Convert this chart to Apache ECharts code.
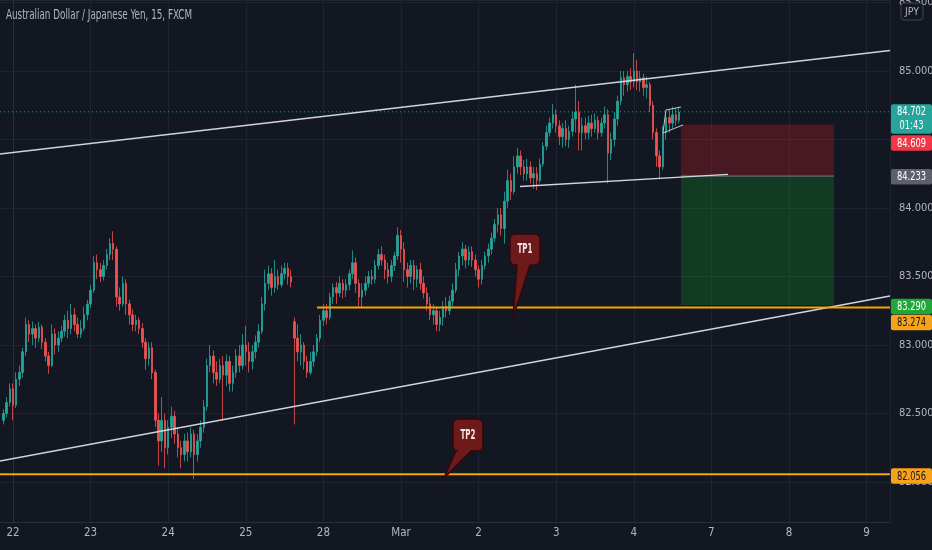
<!DOCTYPE html>
<html><head><meta charset="utf-8">
<script src="https://cdn.jsdelivr.net/npm/echarts@6/dist/echarts.min.js"></script>
<style>html,body{margin:0;padding:0;background:#131722;}#c{width:932px;height:550px;}</style>
</head><body><div id="c"></div>
<script>
// ---------- data ----------
const titleText = 'Australian Dollar / Japanese Yen, 15, FXCM';
const dayLabels = ['22','23','24','25','28','Mar','2','3','4','7','8','9'];
const hiddenPriceLabels = [84.5];

// hourly-resolution OHLC [open, close, low, high], grouped by day label
const pre = [[82.45,82.50,82.42,82.53],[82.50,82.58,82.47,82.62],[82.58,82.68,82.55,82.72]];
const d22 = [[82.68,82.56,82.45,82.72],[82.56,82.75,82.54,82.80],[82.75,82.80,82.70,82.85],[82.80,82.95,82.76,82.98],
[82.95,83.15,82.92,83.20],[83.15,83.08,83.02,83.18],[83.08,83.12,83.00,83.17],[83.12,83.05,82.98,83.15],
[83.05,83.13,83.02,83.17],[83.13,83.02,82.97,83.15],[83.02,82.92,82.88,83.05],[82.92,82.85,82.79,82.95],
[82.85,83.08,82.84,83.15],[83.08,83.00,82.93,83.12],[83.00,83.05,82.95,83.10],[83.05,83.10,83.02,83.14],
[83.10,83.18,83.06,83.22],[83.18,83.12,83.05,83.25],[83.12,83.22,83.08,83.30],[83.22,83.15,83.10,83.27],
[83.15,83.08,83.05,83.20],[83.08,83.12,83.05,83.18],[83.12,83.22,83.10,83.28],[83.22,83.30,83.18,83.33]];
const d23 = [[83.30,83.40,83.27,83.44],[83.40,83.60,83.38,83.65],[83.60,83.55,83.48,83.66],[83.55,83.50,83.46,83.60],
[83.50,83.58,83.47,83.62],[83.58,83.66,83.55,83.70],[83.66,83.74,83.62,83.78],[83.74,83.70,83.62,83.83],
[83.70,83.35,83.28,83.72],[83.35,83.30,83.25,83.42],[83.30,83.45,83.28,83.50],[83.45,83.30,83.22,83.48],
[83.30,83.22,83.15,83.33],[83.22,83.15,83.10,83.26],[83.15,83.18,83.10,83.22],[83.18,83.12,83.08,83.20],
[83.12,83.02,82.98,83.16],[83.02,82.90,82.82,83.05],[82.90,82.98,82.85,83.02],[82.98,82.80,82.75,83.02],
[82.80,82.45,82.40,82.82],[82.45,82.30,82.12,82.50],[82.30,82.45,82.22,82.62],[82.45,82.25,82.10,82.50]];
const d24 = [[82.25,82.40,82.20,82.45],[82.40,82.48,82.32,82.55],[82.48,82.35,82.28,82.52],[82.35,82.25,82.18,82.40],
[82.25,82.20,82.10,82.30],[82.20,82.30,82.15,82.35],[82.30,82.22,82.15,82.36],[82.22,82.35,82.18,82.40],
[82.35,82.20,82.02,82.38],[82.20,82.30,82.15,82.35],[82.30,82.40,82.25,82.45],[82.40,82.55,82.36,82.60],
[82.55,82.85,82.52,82.90],[82.85,82.92,82.80,83.00],[82.92,82.80,82.72,82.96],[82.80,82.75,82.70,82.88],
[82.75,82.85,82.72,82.90],[82.85,82.78,82.45,82.92],[82.78,82.88,82.70,82.93],[82.88,82.72,82.66,82.92],
[82.72,82.80,82.66,82.85],[82.80,82.92,82.76,82.97],[82.92,82.85,82.80,83.00],[82.85,83.00,82.82,83.08]];
const d25 = [[83.00,82.95,82.85,83.14],[82.95,82.88,82.80,83.02],[82.88,82.95,82.82,83.00],[82.95,83.02,82.90,83.07],
[83.02,83.10,82.98,83.15],[83.10,83.30,83.08,83.35],[83.30,83.45,83.25,83.55],[83.45,83.52,83.40,83.58],
[83.52,83.42,83.36,83.56],[83.42,83.50,83.38,83.62],[83.50,83.44,83.40,83.55],[83.44,83.52,83.42,83.58],
[83.52,83.56,83.48,83.60],[83.56,83.50,83.44,83.60],[83.50,83.46,83.42,83.55],[83.17,83.05,82.42,83.20],
[83.05,82.95,82.88,83.15],[82.95,83.00,82.85,83.08],[83.00,82.88,82.82,83.02],[82.88,82.80,82.76,82.92],
[82.80,82.88,82.78,82.95],[82.88,82.95,82.84,83.00],[82.95,83.05,82.92,83.08],[83.05,83.18,83.02,83.22]];
const d28 = [[83.18,83.25,83.14,83.30],[83.25,83.20,83.15,83.30],[83.20,83.35,83.18,83.38],[83.35,83.42,83.30,83.45],
[83.42,83.38,83.30,83.46],[83.38,83.45,83.35,83.50],[83.45,83.40,83.34,83.48],[83.40,83.44,83.35,83.48],
[83.44,83.52,83.40,83.55],[83.52,83.60,83.48,83.69],[83.60,83.45,83.38,83.64],[83.45,83.35,83.28,83.48],
[83.35,83.40,83.27,83.45],[83.40,83.45,83.36,83.50],[83.45,83.50,83.42,83.54],[83.50,83.48,83.44,83.55],
[83.48,83.58,83.45,83.62],[83.58,83.66,83.55,83.70],[83.66,83.62,83.58,83.72],[83.62,83.55,83.48,83.66],
[83.55,83.50,83.45,83.60],[83.50,83.58,83.46,83.62],[83.58,83.65,83.54,83.68],[83.65,83.80,83.62,83.86]];
const mar1 = [[83.80,83.70,83.60,83.84],[83.70,83.55,83.46,83.75],[83.55,83.50,83.42,83.60],[83.50,83.58,83.45,83.62],
[83.58,83.48,83.40,83.62],[83.48,83.55,83.42,83.58],[83.55,83.45,83.40,83.60],[83.45,83.38,83.34,83.50],
[83.38,83.30,83.25,83.42],[83.30,83.22,83.18,83.35],[83.22,83.25,83.15,83.30],[83.25,83.15,83.10,83.28],
[83.15,83.20,83.10,83.25],[83.20,83.28,83.14,83.32],[83.28,83.25,83.20,83.35],[83.25,83.32,83.22,83.36],
[83.32,83.40,83.28,83.45],[83.40,83.55,83.38,83.60],[83.55,83.65,83.50,83.68],[83.65,83.70,83.58,83.75],
[83.70,83.62,83.56,83.73],[83.62,83.68,83.58,83.72],[83.68,83.62,83.57,83.72],[83.62,83.55,83.50,83.66]];
const mar2 = [[83.55,83.48,83.42,83.58],[83.48,83.58,83.44,83.62],[83.58,83.65,83.55,83.68],[83.65,83.70,83.60,83.74],
[83.70,83.78,83.66,83.82],[83.78,83.88,83.75,83.92],[83.88,83.95,83.82,84.00],[83.95,83.85,83.80,84.00],
[83.85,84.05,83.74,84.12],[84.05,84.20,84.00,84.28],[84.20,84.12,84.06,84.25],[84.12,84.30,84.10,84.38],
[84.30,84.38,84.25,84.44],[84.38,84.30,84.24,84.42],[84.30,84.25,84.20,84.35],[84.25,84.30,84.20,84.36],
[84.30,84.22,84.18,84.34],[84.22,84.25,84.14,84.30],[84.25,84.20,84.13,84.30],[84.20,84.32,84.18,84.36],
[84.32,84.45,84.30,84.48],[84.45,84.55,84.42,84.60],[84.55,84.62,84.52,84.66],[84.62,84.68,84.58,84.76]];
const mar3 = [[84.68,84.60,84.55,84.72],[84.60,84.52,84.46,84.64],[84.52,84.58,84.44,84.62],[84.58,84.50,84.45,84.64],
[84.50,84.56,84.44,84.60],[84.56,84.65,84.52,84.70],[84.65,84.70,84.55,84.90],[84.70,84.55,84.42,84.78],
[84.55,84.60,84.42,84.66],[84.60,84.55,84.50,84.66],[84.55,84.62,84.50,84.67],[84.62,84.58,84.52,84.68],
[84.58,84.64,84.55,84.69],[84.64,84.55,84.50,84.67],[84.55,84.62,84.52,84.66],[84.62,84.68,84.58,84.74],
[84.68,84.40,84.18,84.72],[84.40,84.50,84.35,84.55],[84.50,84.65,84.45,84.70],[84.65,84.78,84.60,84.82],
[84.78,84.95,84.75,85.00],[84.95,84.90,84.82,85.00],[84.90,84.96,84.85,85.00],[84.96,84.92,84.86,85.02]];
const mar4 = [[84.92,85.00,84.88,85.13],[85.00,84.92,84.86,85.08],[84.92,84.95,84.85,85.00],[84.95,84.88,84.82,84.98],
[84.88,84.90,84.80,84.96],[84.90,84.75,84.70,84.92],[84.75,84.55,84.50,84.78],[84.55,84.38,84.30,84.58],
[84.38,84.30,84.21,84.42],[84.30,84.55,84.28,84.60],[84.55,84.66,84.50,84.70],[84.66,84.62,84.55,84.72],
[84.62,84.68,84.58,84.74],[84.68,84.64,84.60,84.73],[84.64,84.70,84.62,84.74]];

const lastPrice = 84.702, countdown = '01:43';
const stopPrice = 84.609, entryPrice = 84.233, targetPrice = 83.290;
const tp1Price = 83.274, tp2Price = 82.056;
const positionSpan = [8.608, 10.58];          // day-index range of the position box
const tp1Span = [3.918, 11.302];
const fullSpan = [-0.1675, 11.302];
// trend lines: [dayIdx0, price0, dayIdx1, price1]
const trendLines = [[-0.1675,84.394,11.302,85.149],[-0.1675,82.153,11.302,83.358],[6.534,84.157,9.214,84.245]];
const flagLines = [[8.415,84.715,8.608,84.737],[8.376,84.547,8.634,84.606],[8.376,84.547,8.415,84.715]];
const callouts = [{text:'TP1', idx:6.443, price:83.197},{text:'TP2', idx:5.554, price:82.029}];

// ---------- build chart ----------
const firstIdx = -0.125, barsPerDay = 24;
const ohlc = [].concat(pre,d22,d23,d24,d25,d28,mar1,mar2,mar3,mar4);
const candleData = ohlc.map((c,i)=>[firstIdx + i/barsPerDay, c[0], c[1], c[2], c[3]]);

const FONT = "'Liberation Sans Narrow','DejaVu Sans Condensed','Roboto',sans-serif";
const chart = echarts.init(document.getElementById('c'), null, {renderer:'canvas'});

function lineSeries(pts, color, width, type, z, opacity){
  return {type:'line', data:pts, symbol:'none', showSymbol:false, silent:true, animation:false, z:z,
    lineStyle:{color:color, width:width, type:type||'solid', opacity:opacity==null?1:opacity}};
}
const series = [];
series.push({type:'candlestick', data:candleData, encode:{x:0, y:[1,2,3,4]}, barWidth:2, silent:true, animation:false, z:3,
  itemStyle:{color:'#26a69a', color0:'#ef5350', borderColor:'#26a69a', borderColor0:'#ef5350', borderWidth:0.8}});
series.push(lineSeries([[fullSpan[0],lastPrice],[fullSpan[1],lastPrice]], '#26a69a', 1, [1,3], 2, 0.9));
series.push(Object.assign(lineSeries([[positionSpan[0],entryPrice],[positionSpan[1],entryPrice]], '#787b86', 1, 'solid', 2), {
  markArea:{silent:true, animation:false, data:[
    [{coord:[positionSpan[0], stopPrice], itemStyle:{color:'rgba(200,30,40,0.30)'}},{coord:[positionSpan[1], entryPrice]}],
    [{coord:[positionSpan[0], entryPrice], itemStyle:{color:'rgba(20,150,40,0.28)'}},{coord:[positionSpan[1], targetPrice]}]
  ]}}));
trendLines.forEach(t=>series.push(lineSeries([[t[0],t[1]],[t[2],t[3]]], '#d1d4dc', 1.4, 'solid', 5)));
flagLines.forEach(t=>series.push(lineSeries([[t[0],t[1]],[t[2],t[3]]], '#c5c7cf', 1, 'solid', 5)));
series.push(lineSeries([[tp1Span[0],tp1Price],[tp1Span[1],tp1Price]], '#f7a600', 2, 'solid', 6));
series.push(lineSeries([[fullSpan[0],tp2Price],[fullSpan[1],tp2Price]], '#f7a600', 2, 'solid', 6));

chart.setOption({
  backgroundColor:'#131722',
  animation:false,
  grid:{left:-64.6, right:42, top:0, bottom:28, containLabel:false, outerBoundsMode:'none'},
  xAxis:{type:'value', min:-1, max:11.302, interval:1, position:'bottom',
    axisLine:{show:true, lineStyle:{color:'#2a2e39'}}, axisTick:{show:false},
    splitLine:{show:true, lineStyle:{color:'#1f2330', width:1}},
    axisLabel:{show:true, color:'#b2b5be', fontSize:11.5, fontFamily:FONT, margin:5, showMinLabel:false, showMaxLabel:false,
      formatter:function(v){const k=Math.round(v); if(Math.abs(v-k)>1e-6||k<0||k>=dayLabels.length) return ''; return dayLabels[k];}}},
  yAxis:{type:'value', position:'right', min:81.708, max:85.518, splitNumber:8, scale:true,
    axisLine:{show:true, lineStyle:{color:'#2a2e39'}}, axisTick:{show:false},
    splitLine:{show:true, lineStyle:{color:'#1f2330', width:1}},
    axisLabel:{color:'#b2b5be', fontSize:11, fontFamily:FONT, margin:9, align:'left', showMinLabel:false, showMaxLabel:false,
      formatter:function(v){ if(hiddenPriceLabels.some(h=>Math.abs(h-v)<1e-6)) return ''; return v.toFixed(3);}}},
  series:series
});

// ---------- overlay: price tags, callouts, title ----------
function px(idx, price){ return chart.convertToPixel({xAxisIndex:0, yAxisIndex:0}, [idx, price]); }
function measure(text, font){ const ctx=document.createElement('canvas').getContext('2d'); ctx.font=font; return ctx.measureText(text).width; }
const g = [];
const tagX = 891, tagW = 41;
const tags = [
  {p:lastPrice, bg:'#26a69a', fg:'#ffffff', shift:0, sub:countdown},
  {p:stopPrice, bg:'#f23645', fg:'#ffffff', shift:18.4},
  {p:entryPrice, bg:'#5d606b', fg:'#ffffff', shift:0.8},
  {p:targetPrice, bg:'#1ea838', fg:'#ffffff', shift:1.3},
  {p:tp1Price, bg:'#f7a21b', fg:'#131722', shift:15},
  {p:tp2Price, bg:'#f7a21b', fg:'#131722', shift:1.7}
];
const tagFont = '12px '+FONT;
const tagScale = Math.min(1, 29 / measure('84.702', tagFont));
function tagText(x, y, text, fill){
  const w = measure(text, tagFont)*tagScale;
  return {type:'text', z:101, x:x - w/2, y:y, scaleX:tagScale, style:{text:text, fill:fill, font:tagFont, textVerticalAlign:'middle'}};
}
tags.forEach(t=>{
  const y = px(0, t.p)[1] + t.shift;
  const h = t.sub ? 29.5 : 15.5;
  const top = t.sub ? y - 7.5 : y - 7.75;
  g.push({type:'rect', z:100, shape:{x:tagX, y:top, width:tagW, height:h, r:2}, style:{fill:t.bg}});
  g.push(tagText(tagX+tagW/2, y+0.5, t.p.toFixed(3), t.fg));
  if(t.sub) g.push(tagText(tagX+tagW/2, y+14.5, t.sub, t.fg));
});
// JPY box
g.push({type:'rect', z:100, shape:{x:901, y:3, width:22, height:17, r:3}, style:{fill:'#131722', stroke:'#434651', lineWidth:1}});
g.push({type:'text', z:101, x:912, y:12, style:{text:'JPY', fill:'#b2b5be', font:'10.5px '+FONT, textAlign:'center', textVerticalAlign:'middle'}});
// title
const titleFont = '13.5px '+FONT;
const tScale = 186 / measure(titleText, titleFont);
g.push({type:'text', z:101, x:6, y:15.5, scaleX:tScale, style:{text:titleText, fill:'#b2b5be', font:titleFont, textVerticalAlign:'middle'}});
// callouts
function calloutPoints(bx,by,w,h,r,pl,pr,tx,ty){
  const pts=[];
  const corner=(cx,cy,a0)=>{for(let k=0;k<=4;k++){const a=a0+k*Math.PI/8; pts.push([cx+r*Math.cos(a), cy+r*Math.sin(a)]);}};
  corner(bx+r,by+r,Math.PI); corner(bx+w-r,by+r,1.5*Math.PI); corner(bx+w-r,by+h-r,0);
  pts.push([bx+pr,by+h]); pts.push([tx,ty]); pts.push([bx+pl,by+h]);
  corner(bx+r,by+h-r,0.5*Math.PI);
  return pts;
}
const calloutBox = [{dx:-3, dy:-84, w:30, h:31, pl:7, pr:20},{dx:9, dy:-59, w:30, h:32, pl:3, pr:18}];
callouts.forEach((c,i)=>{
  const tip = px(c.idx, c.price); const b = calloutBox[i];
  const bx = tip[0]+b.dx, by = tip[1]+b.dy;
  g.push({type:'polygon', z:90, shape:{points:calloutPoints(bx,by,b.w,b.h,5,b.pl,b.pr,tip[0],tip[1])},
    style:{fill:'#6e1a1a', stroke:'#320909', lineWidth:1.5}});
  const f = 'bold 14px '+FONT; const s = 15/measure(c.text, f);
  g.push({type:'text', z:91, x:bx+b.w/2 - 7.5, y:by+b.h/2, scaleX:s, style:{text:c.text, fill:'#f3e4e4', font:f, textVerticalAlign:'middle'}});
});
chart.setOption({graphic:{elements:g}});
</script></body></html>
